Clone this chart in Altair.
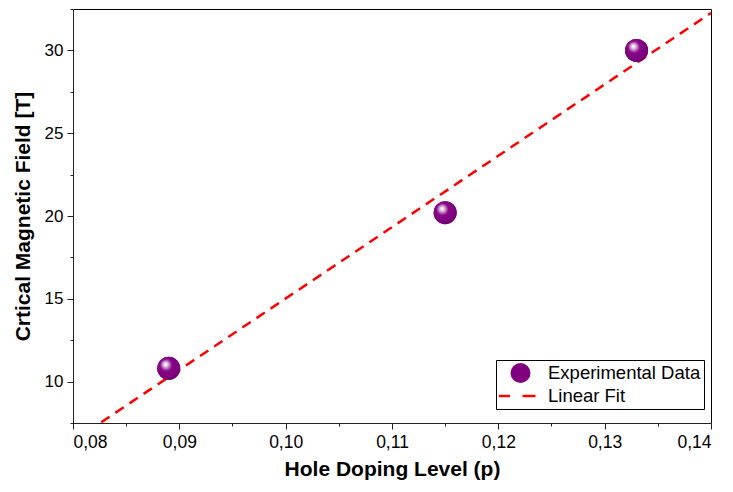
import altair as alt
import pandas as pd

# Measured critical field vs. hole doping
doping = [0.089, 0.115, 0.133]
field = [10.8, 20.2, 30.0]
series_names = ["Experimental Data", "Linear Fit"]

x_ticks = [round(0.08 + 0.005 * i, 3) for i in range(13)]
y_ticks = [7.5 + 2.5 * i for i in range(11)]

df = pd.DataFrame({"p": doping, "B": field, "series": series_names[0]})

FONT = "Liberation Sans"
PURPLE = "#800080"
RED = "#ff0000"

x_scale = alt.Scale(domain=[0.08, 0.14], nice=False, zero=False)
y_scale = alt.Scale(domain=[7.5, 32.5], nice=False, zero=False)

x_major = "abs(datum.value*100 - round(datum.value*100)) < 1e-6"
x_axis = alt.Axis(
    title="Hole Doping Level (p)",
    values=x_ticks,
    labelExpr=x_major + " ? replace(format(datum.value, '.2f'), '.', ',') : ''",
    tickSize={"condition": {"test": x_major, "value": 6}, "value": 3},
    labelPadding=4,
    labelFontSize=17.5,
    titlePadding=8,
    grid=False,
)
y_axis = alt.Axis(
    title="Crtical Magnetic Field [T]",
    values=y_ticks,
    labelExpr="datum.value % 5 == 0 ? datum.value : ''",
    tickSize={"condition": {"test": "datum.value % 5 == 0", "value": 6}, "value": 3},
    labelPadding=4,
    labelFontSize=17,
    titlePadding=11,
    grid=False,
)

# Dashed regression line over the full x range
fit = (
    alt.Chart(df)
    .transform_regression("p", "B", extent=[0.08, 0.14])
    .mark_line(color=RED, strokeWidth=2.5, strokeDash=[10, 7], clip=True)
    .encode(
        x=alt.X("p:Q", scale=x_scale, axis=x_axis),
        y=alt.Y("B:Q", scale=y_scale, axis=y_axis),
    )
)

# Flat points carrying the combined legend (hidden beneath the shaded spheres)
legend_pts = (
    alt.Chart(df)
    .mark_point(filled=True, size=530, opacity=1, strokeWidth=2.5)
    .encode(
        x=alt.X("p:Q", scale=x_scale),
        y=alt.Y("B:Q", scale=y_scale),
        fill=alt.Fill(
            "series:N",
            scale=alt.Scale(domain=series_names, range=[PURPLE, "transparent"]),
            legend=alt.Legend(
                title=None,
                orient="none",
                legendX=423,
                legendY=351,
                padding=3,
                symbolOffset=10,
                symbolSize=400,
                symbolStrokeWidth=2.5,
                labelOffset=16,
                clipHeight=20,
                rowPadding=3,
                labelFont=FONT,
                labelFontSize=18.5,
                labelColor="black",
                strokeColor="black",
                fillColor="white",
                cornerRadius=0,
            ),
        ),
        stroke=alt.Stroke(
            "series:N",
            scale=alt.Scale(domain=series_names, range=["transparent", RED]),
        ),
        shape=alt.Shape(
            "series:N",
            scale=alt.Scale(domain=series_names, range=["circle", "M-2.3,0H-1.05M0.2,0H1.5"]),
        ),
    )
)

# Shaded spheres for the measurements
sphere_fill = {
    "gradient": "radial",
    "x1": 0.36, "y1": 0.32, "r1": 0,
    "x2": 0.42, "y2": 0.4, "r2": 0.62,
    "stops": [
        {"offset": 0.0, "color": "#ffffff"},
        {"offset": 0.1, "color": "#f3e2f3"},
        {"offset": 0.25, "color": "#c184c1"},
        {"offset": 0.42, "color": "#880888"},
        {"offset": 0.8, "color": "#7e007e"},
        {"offset": 1.0, "color": "#6e006e"},
    ],
}
spheres = (
    alt.Chart(df)
    .mark_point(filled=True, size=530, opacity=1, fill=sphere_fill, stroke=None)
    .encode(
        x=alt.X("p:Q", scale=x_scale),
        y=alt.Y("B:Q", scale=y_scale),
    )
)

chart = (
    alt.layer(fit, legend_pts, spheres)
    .properties(
        width=638,
        height=414,
        padding={"left": 73, "top": 9, "right": 22, "bottom": 69},
        autosize=alt.AutoSizeParams(type="none"),
        background="white",
    )
    .configure_view(stroke="black", strokeWidth=1)
    .configure_axis(
        labelFont=FONT,
        labelColor="black",
        titleFont=FONT,
        titleFontSize=21,
        titleFontWeight="bold",
        titleColor="black",
        domainColor="#222222",
        domainWidth=1,
        tickColor="#222222",
        tickWidth=1,
    )
)

chart.save("out.html", embed_options={"renderer": "svg", "actions": False})
